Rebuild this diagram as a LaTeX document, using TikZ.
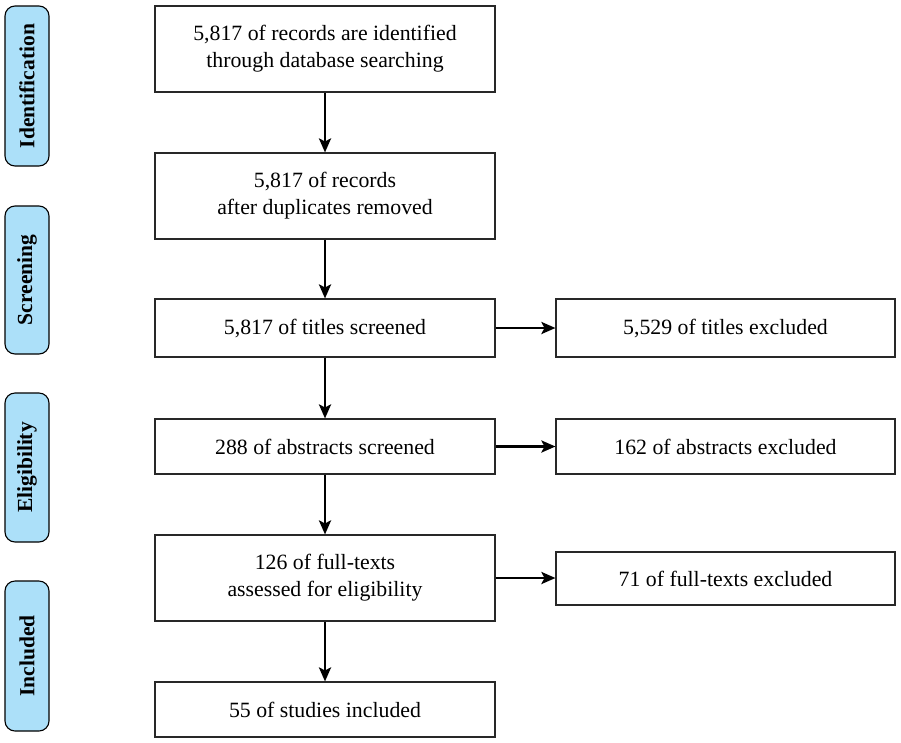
\documentclass[tikz,border=0pt]{standalone}
\usepackage{fontspec}
\setmainfont{Liberation Serif}
\usetikzlibrary{arrows.meta}
\definecolor{phaseblue}{RGB}{172,224,249}
\definecolor{boxline}{RGB}{40,40,40}
\tikzset{
  mainbox/.style={draw=boxline, line width=1.1pt, fill=white, align=center, font=\fontsize{21.8}{27}\selectfont},
  phasebox/.style={draw=black, line width=1.1pt, fill=phaseblue, rounded corners=10pt, font=\bfseries\fontsize{21.5}{24}\selectfont},
  flow/.style={line width=2.7pt, -{Stealth[length=14pt,width=12pt,inset=3pt]}}
}
\begin{document}
\begin{tikzpicture}[x=1pt,y=-1pt]
\useasboundingbox (0,0) rectangle (901,742);
% main column boxes
\node[mainbox, minimum width=340pt, minimum height=86pt] (b1) at (325,49) {5,817 of records are identified\\through database searching};
\node[mainbox, minimum width=340pt, minimum height=86pt] (b2) at (325,196) {5,817 of records\\after duplicates removed};
\node[mainbox, minimum width=340pt, minimum height=58pt] (b3) at (325,328) {5,817 of titles screened};
\node[mainbox, minimum width=340pt, minimum height=55pt] (b4) at (325,446.5) {288 of abstracts screened};
\node[mainbox, minimum width=340pt, minimum height=86pt] (b5) at (325,578) {126 of full-texts\\assessed for eligibility};
\node[mainbox, minimum width=340pt, minimum height=55pt] (b6) at (325,709.5) {55 of studies included};
% right column
\node[mainbox, minimum width=339pt, minimum height=58pt] (r1) at (725.5,328) {5,529 of titles excluded};
\node[mainbox, minimum width=339pt, minimum height=55pt] (r2) at (725.5,446.5) {162 of abstracts excluded};
\node[mainbox, minimum width=339pt, minimum height=53pt] (r3) at (725.5,578.5) {71 of full-texts excluded};
% phase labels
\node[phasebox, minimum width=160pt, minimum height=44pt, rotate=90] (p1) at (27,86) {Identification};
\node[phasebox, minimum width=148pt, minimum height=44pt, rotate=90] (p2) at (27,280) {Screening};
\node[phasebox, minimum width=149pt, minimum height=44pt, rotate=90] (p3) at (27,467.5) {Eligibility};
\node[phasebox, minimum width=150pt, minimum height=44pt, rotate=90] (p4) at (27,656) {Included};
% arrows
\draw[flow] (b1) -- (b2);
\draw[flow] (b2) -- (b3);
\draw[flow] (b3) -- (b4);
\draw[flow] (b4) -- (b5);
\draw[flow] (b5) -- (b6);
\draw[flow] (b3) -- (r1);
\draw[flow] (b4) -- (r2);
\draw[flow] (b5.east) -- (r3.west |- b5.east);
\end{tikzpicture}
\end{document}
